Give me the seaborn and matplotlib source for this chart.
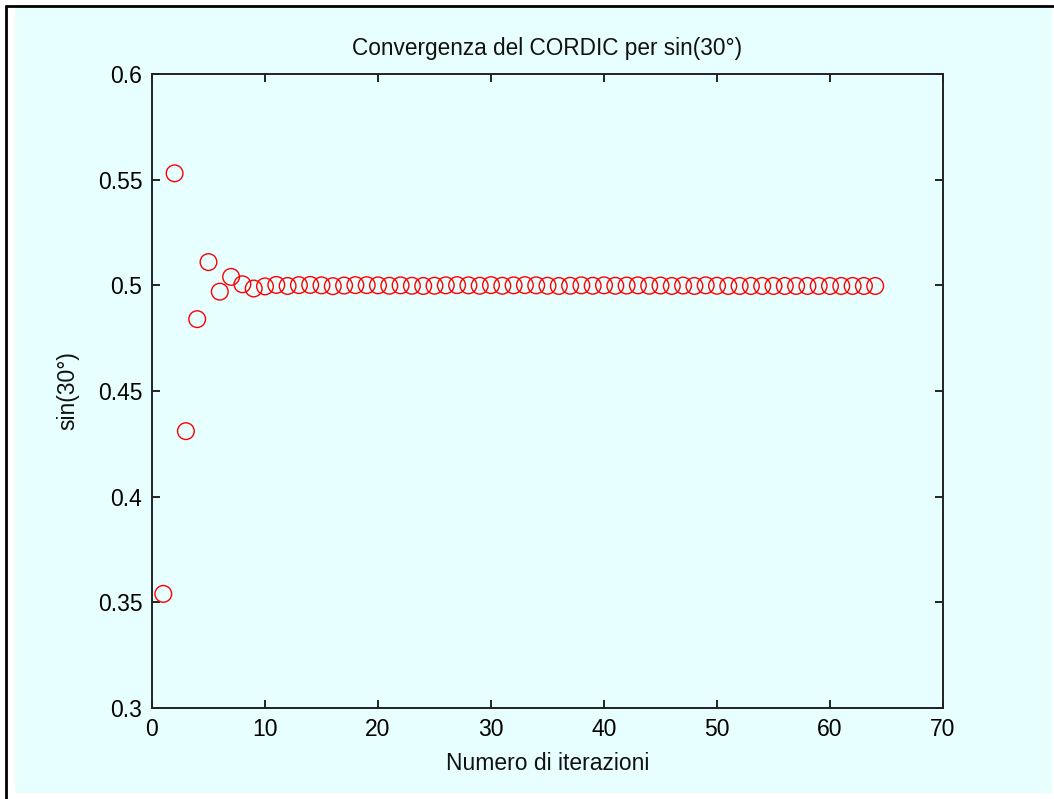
import matplotlib
matplotlib.use("Agg")
import matplotlib.pyplot as plt
from matplotlib.patches import Rectangle
from matplotlib.lines import Line2D
import seaborn as sns
import pandas as pd

iterations = list(range(1, 65))
sin_values = [
    0.354, 0.553, 0.431, 0.484, 0.511, 0.497, 0.504, 0.5005, 0.4985, 0.4995,
    0.5002, 0.4997, 0.5001, 0.5002, 0.5000, 0.4996, 0.4999, 0.5001, 0.5001, 0.5000,
    0.4998, 0.5000, 0.4998, 0.4997, 0.4998, 0.5000, 0.5001, 0.5000, 0.4998, 0.5001,
    0.4998, 0.5000, 0.5001, 0.5000, 0.4998, 0.4997, 0.4998, 0.5000, 0.4998, 0.5000,
    0.4998, 0.4999, 0.5000, 0.4998, 0.4999, 0.4997, 0.4999, 0.4997, 0.5000, 0.4998,
    0.4997, 0.4997, 0.4997, 0.4997, 0.4997, 0.4997, 0.4997, 0.4997, 0.4997, 0.4997,
    0.4997, 0.4997, 0.4997, 0.4997,
]
x_ticks = [0, 10, 20, 30, 40, 50, 60, 70]
y_ticks = [0.3, 0.35, 0.4, 0.45, 0.5, 0.55, 0.6]
y_tick_labels = ["0.3", "0.35", "0.4", "0.45", "0.5", "0.55", "0.6"]
title = "Convergenza del CORDIC per sin(30°)"
x_label = "Numero di iterazioni"
y_label = "sin(30°)"

df = pd.DataFrame({"iter": iterations, "val": sin_values})

sns.set_style("ticks")
plt.rcParams["font.family"] = ["Liberation Sans", "DejaVu Sans"]

bg = "#e8ffff"
W, H = 1054, 799
fig = plt.figure(figsize=(W / 100, H / 100), dpi=100, facecolor="white")

# cyan panel and partial black frame (drawn beneath the axes)
fig.patches.append(Rectangle((15 / W, 6 / H), (1052 - 15) / W, (784 - 6 + 9) / H,
                             transform=fig.transFigure, facecolor=bg, edgecolor="none", zorder=-10))
fig.lines.append(Line2D([5.5 / W, 1.0], [1 - 5.5 / H, 1 - 5.5 / H], transform=fig.transFigure,
                        color="black", linewidth=2, zorder=-5))
fig.lines.append(Line2D([5.5 / W, 5.5 / W], [0, 1 - 5.5 / H], transform=fig.transFigure,
                        color="black", linewidth=2, zorder=-5))

ax = fig.add_axes([152 / W, 1 - 708 / H, (943 - 152) / W, (708 - 74) / H])
ax.set_facecolor(bg)

sns.scatterplot(data=df, x="iter", y="val", ax=ax, marker="o", s=12 ** 2,
                facecolor="none", edgecolor="#ff0000", linewidth=1.0, legend=False)

ax.set_xlim(0, 70)
ax.set_ylim(0.3, 0.6)
ax.set_xticks(x_ticks)
ax.set_xticklabels([str(t) for t in x_ticks])
ax.set_yticks(y_ticks)
ax.set_yticklabels(y_tick_labels)
for s in ax.spines.values():
    s.set_visible(True)
    s.set_linewidth(1.4)
    s.set_color("#222222")
ax.tick_params(direction="in", length=6, width=1.2, top=True, right=True,
               labelsize=16.5, colors="black", pad=7)

ax.set_title(title, fontsize=16.3, pad=14, color="#111111")
ax.set_xlabel(x_label, fontsize=16.5, labelpad=8, color="#111111")
ax.set_ylabel(y_label, fontsize=16.5, labelpad=13, color="#111111")

fig.savefig("out.png", dpi=100, facecolor="white")
